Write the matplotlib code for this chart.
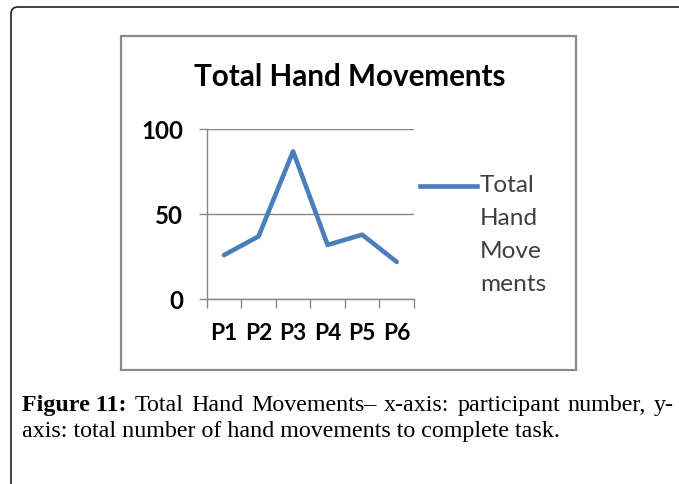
import matplotlib
matplotlib.use("Agg")
import matplotlib.pyplot as plt
from matplotlib.patches import FancyBboxPatch, Rectangle
from matplotlib.lines import Line2D

# ---- data ----
categories = ["P1", "P2", "P3", "P4", "P5", "P6"]
values = [26, 37, 87, 32, 38, 22]
series_name = "Total Hand Movements"
yticks = [0, 50, 100]
title = "Total Hand Movements"
caption_bold = "Figure 11:"
caption_line1 = "Total Hand Movements\u2013 x-axis: participant number, y-"
caption_line2 = "axis: total number of hand movements to complete task."

W, H = 679, 484
fig = plt.figure(figsize=(W / 100, H / 100), dpi=100)
fig.patch.set_facecolor("white")

# background pixel canvas for decorations / texts
bg = fig.add_axes([0, 0, 1, 1], zorder=-1)
bg.set_xlim(0, W)
bg.set_ylim(H, 0)
bg.axis("off")
renderer = fig.canvas.get_renderer()


def fit_size(text, target_w, **kw):
    t = bg.text(0, 0, text, fontsize=10, **kw)
    w = t.get_window_extent(renderer).width
    t.remove()
    return 10 * target_w / w


# outer rounded frame (cropped on right/bottom)
bg.add_patch(FancyBboxPatch((11, 7), 700, 520,
                            boxstyle="round,pad=0,rounding_size=7",
                            fc="none", ec="#222222", lw=1.2))
# inner chart frame
bg.add_patch(Rectangle((121, 36), 455, 334, fc="white", ec="#8a8a8a", lw=1.6))

# ---- plot area ----
left, right = 206.7, 414
top, bottom = 129.3, 299.3
ax = fig.add_axes([left / W, 1 - bottom / H, (right - left) / W, (bottom - top) / H])
ax.set_facecolor("none")
x = list(range(1, len(categories) + 1))
ax.plot(x, values, color="#4A7EBB", lw=3.3, solid_joinstyle="round",
        solid_capstyle="round", clip_on=False, zorder=3)
ax.set_xlim(0.5, len(categories) + 0.5)
ax.set_ylim(0, 100)
ax.set_yticks(yticks)
ax.set_xticks(x)
ax.set_xticklabels(categories)
ax.set_xticks([i + 0.5 for i in range(0, len(categories) + 1)], minor=True)
ax.grid(axis="y", color="#868686", lw=1.0)
for s in ["top", "right"]:
    ax.spines[s].set_visible(False)
for s in ["left", "bottom"]:
    ax.spines[s].set_color("#868686")
    ax.spines[s].set_linewidth(1.0)

tick_fs_y = fit_size("100", 42, family="Lato", weight="bold")
tick_fs_x = fit_size("P1", 27, family="Lato", weight="bold")
ax.tick_params(axis="y", length=6, width=1.0, color="#868686", pad=11,
               labelsize=tick_fs_y)
ax.tick_params(axis="x", which="major", length=0, pad=17, labelsize=tick_fs_x)
ax.tick_params(axis="x", which="minor", length=6.5, width=1.0, color="#868686")
for lab in ax.get_xticklabels() + ax.get_yticklabels():
    lab.set_family("Lato")
    lab.set_weight("bold")
    lab.set_color("black")

# title
tfs = fit_size(title, 313, family="Lato", weight="bold")
bg.text(349.5, 77, title, fontsize=tfs, family="Lato", weight="bold",
        ha="center", va="center", color="black")

# legend (manual)
bg.add_line(Line2D([420, 477], [186, 186], color="#4A7EBB", lw=3.3))
lfs = fit_size("Total", 55, family="Lato")
leg_lines = ["Total", "Hand", "Move", "ments"]
for i, s in enumerate(leg_lines):
    bg.text(480, 186 + i * 32.7, s, fontsize=lfs, family="Lato",
            color="#404040", ha="left", va="center")

# caption
cfs = fit_size(caption_line2, 538, family="Liberation Serif")
words = [(caption_bold, "bold")] + [(w_, "normal") for w_ in caption_line1.split(" ")]
widths = []
for w_, wt in words:
    t = bg.text(0, 0, w_, fontsize=cfs, family="Liberation Serif", weight=wt)
    widths.append(t.get_window_extent(renderer).width)
    t.remove()
x0, x1 = 22, 674
gap = (x1 - x0 - sum(widths)) / (len(words) - 1)
xp = x0
for (w_, wt), wd in zip(words, widths):
    bg.text(xp, 411, w_, fontsize=cfs, family="Liberation Serif", weight=wt,
            ha="left", va="baseline", color="black")
    xp += wd + gap
bg.text(22, 437, caption_line2, fontsize=cfs, family="Liberation Serif",
        ha="left", va="baseline", color="black")

fig.savefig("out.png", dpi=100)
